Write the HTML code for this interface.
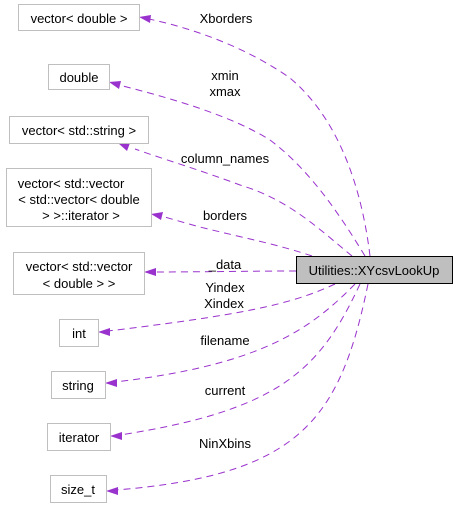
<!DOCTYPE html>
<html><head><style>
html,body{margin:0;padding:0;background:#fff;width:459px;height:509px;overflow:hidden}
text{font-family:"Liberation Sans",Helvetica,sans-serif;font-size:13px;fill:#000}
</style></head><body>
<svg width="459" height="509" viewBox="0 0 459 509" xmlns="http://www.w3.org/2000/svg">
<g fill="none" stroke="#9a32cd" stroke-width="1" stroke-dasharray="7,5">
<path d="M370,256 C362,190 340,120 290,78 C250,50 200,30 149,19"/>
<path d="M365,256 C340,215 310,170 270,140 C230,115 170,98 119,85"/>
<path d="M352,256 C320,230 290,200 240,185 C200,170 160,158 135,149"/>
<path d="M312,256 C280,245 240,237 200,227 C185,223 172,219 161,216"/>
<path d="M296,271 C250,271 200,272 154,272"/>
<path d="M335,284 C290,305 240,315 108,331"/>
<path d="M355,284 C310,330 260,365 115,382"/>
<path d="M360,284 C320,370 280,410 120,435"/>
<path d="M368,284 C340,420 300,475 116,490"/>
</g>
<g fill="#9a32cd">
<path d="M139,17 L151,15 L150,23 z"/>
<path d="M109,82 L121,81 L119,89 z"/>
<path d="M118,143 L130,143 L127,151 z"/>
<path d="M151,214 L163,212 L161,220 z"/>
<path d="M144,272 L156,268 L156,276 z"/>
<path d="M98,332 L110,328 L110,336 z"/>
<path d="M105,383 L117,379 L117,387 z"/>
<path d="M110,436 L122,432 L122,440 z"/>
<path d="M106,491 L118,487 L118,495 z"/>
</g>
<g fill="#fff" stroke="#bfbfbf">
<rect x="18.5" y="4.5" width="121" height="26"/>
<rect x="48.5" y="64.5" width="61" height="25"/>
<rect x="9.5" y="116.5" width="139" height="27"/>
<rect x="6.5" y="168.5" width="145" height="58"/>
<rect x="13.5" y="252.5" width="131" height="42"/>
<rect x="59.5" y="319.5" width="39" height="27"/>
<rect x="51.5" y="371.5" width="54" height="27"/>
<rect x="47.5" y="423.5" width="63" height="27"/>
<rect x="50.5" y="475.5" width="56" height="27"/>
</g>
<rect x="296.5" y="256.5" width="156" height="27" fill="#bfbfbf" stroke="#000"/>
<g text-anchor="middle">
<text x="79" y="23">vector&lt; double &gt;</text>
<text x="79" y="82">double</text>
<text x="79" y="135">vector&lt; std::string &gt;</text>
<text x="71" y="188">vector&lt; std::vector</text>
<text x="79" y="204">&lt; std::vector&lt; double</text>
<text x="81" y="220">&gt; &gt;::iterator &gt;</text>
<text x="79" y="271">vector&lt; std::vector</text>
<text x="79" y="288">&lt; double &gt; &gt;</text>
<text x="79" y="338">int</text>
<text x="78" y="390">string</text>
<text x="79" y="442">iterator</text>
<text x="78" y="494">size_t</text>
<text x="374" y="275">Utilities::XYcsvLookUp</text>
<text x="226" y="23">Xborders</text>
<text x="225" y="80">xmin</text>
<text x="225" y="96">xmax</text>
<text x="225" y="163">column_names</text>
<text x="225" y="220">borders</text>
<text x="225" y="269">_data</text>
<text x="225" y="292">Yindex</text>
<text x="224" y="308">Xindex</text>
<text x="225" y="345">filename</text>
<text x="225" y="395">current</text>
<text x="225" y="448">NinXbins</text>
</g>
</svg>
</body></html>
